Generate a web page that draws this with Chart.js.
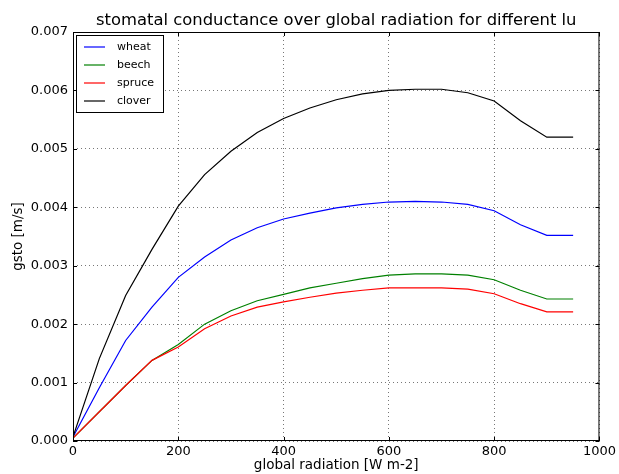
<!DOCTYPE html>
<html>
<head>
<meta charset="utf-8">
<script src="https://cdn.jsdelivr.net/npm/chart.js@4"></script>
<style>
  html, body { margin: 0; padding: 0; background: #fff; }
  #wrap { width: 619px; height: 474px; }
</style>
</head>
<body>
<div id="wrap"><canvas id="gsto-chart" width="619" height="474"></canvas></div>
<script>
// radiation steps (x axis)
const radiation = [0, 50, 100, 150, 200, 250, 300, 350, 400, 450, 500, 550, 600, 650, 700, 750, 800, 850, 900, 950]

// stomatal conductance per land use [m/s]
const wheat  = [0.00007, 0.00091, 0.00172, 0.00229, 0.00280, 0.00315, 0.00344, 0.00365, 0.00380, 0.00390, 0.00399, 0.00405, 0.00409, 0.00410, 0.00409, 0.00405, 0.00394, 0.00370, 0.00352, 0.00352]
const beech  = [0.00005, 0.00050, 0.00095, 0.00138, 0.00165, 0.00200, 0.00223, 0.00240, 0.00251, 0.00262, 0.00270, 0.00278, 0.00284, 0.00286, 0.00286, 0.00284, 0.00276, 0.00258, 0.00243, 0.00243]
const spruce = [0.00005, 0.00050, 0.00095, 0.00138, 0.00161, 0.00192, 0.00214, 0.00229, 0.00238, 0.00246, 0.00253, 0.00258, 0.00262, 0.00262, 0.00262, 0.00260, 0.00252, 0.00235, 0.00221, 0.00221]
const clover = [0.00007, 0.00141, 0.00249, 0.00328, 0.00402, 0.00456, 0.00496, 0.00528, 0.00552, 0.00570, 0.00584, 0.00594, 0.00600, 0.00602, 0.00602, 0.00596, 0.00582, 0.00548, 0.00520, 0.00520]

const lu_names  = ["wheat", "beech", "spruce", "clover"]
const lu_colors = ["#0000ff", "#008000", "#ff0000", "#000000"]
const lu_values = [wheat, beech, spruce, clover]

const x_ticks = [0, 200, 400, 600, 800, 1000]
const y_ticks = [0, 0.001, 0.002, 0.003, 0.004, 0.005, 0.006, 0.007]

const chart_title = "stomatal conductance over global radiation for different lu"
const FONT = "DejaVu Sans"

let datasets = []
for (let i = 0; i < lu_names.length; i++) {
  let pts = []
  for (let j = 0; j < radiation.length; j++) {
    pts.push({ x: radiation[j], y: lu_values[i][j] })
  }
  datasets.push({
    label: lu_names[i],
    data: pts,
    borderColor: lu_colors[i],
    borderWidth: 1.2,
    pointRadius: 0,
    fill: false,
    tension: 0,
    order: lu_names.length - i   // later series on top, like matplotlib
  })
}

// frame round the plot, inward ticks, title over the axes and legend box inside (matplotlib look)
const mplStyle = {
  id: "mplStyle",
  afterDraw(chart) {
    const ctx = chart.ctx
    const a = chart.chartArea
    const xs = chart.scales.x, ys = chart.scales.y
    ctx.save()
    ctx.strokeStyle = "#000"
    ctx.lineWidth = 1
    ctx.strokeRect(a.left + 0.5, a.top + 0.5, a.right - a.left - 1, a.bottom - a.top - 1)
    ctx.beginPath()
    x_ticks.forEach(v => {
      const px = Math.round(xs.getPixelForValue(v)) + 0.5
      ctx.moveTo(px, a.bottom); ctx.lineTo(px, a.bottom - 4)
      ctx.moveTo(px, a.top); ctx.lineTo(px, a.top + 4)
    })
    y_ticks.forEach(v => {
      const py = Math.round(ys.getPixelForValue(v)) + 0.5
      ctx.moveTo(a.left, py); ctx.lineTo(a.left + 4, py)
      ctx.moveTo(a.right, py); ctx.lineTo(a.right - 4, py)
    })
    ctx.stroke()

    // title
    ctx.fillStyle = "#000"
    ctx.font = "16.4px '" + FONT + "'"
    ctx.textAlign = "center"
    ctx.textBaseline = "alphabetic"
    ctx.fillText(chart_title, (a.left + a.right) / 2, a.top - 7)

    // legend
    const bx = a.left + 3, by = a.top + 3, bw = 87, bh = 77
    ctx.fillStyle = "#fff"
    ctx.fillRect(bx, by, bw, bh)
    ctx.strokeStyle = "#000"
    ctx.strokeRect(bx + 0.5, by + 0.5, bw, bh)
    ctx.font = "11px '" + FONT + "'"
    ctx.textAlign = "left"
    ctx.textBaseline = "middle"
    chart.data.datasets.forEach((ds, i) => {
      const yy = by + 12 + i * 18
      ctx.strokeStyle = ds.borderColor
      ctx.lineWidth = 1.2
      ctx.beginPath()
      ctx.moveTo(bx + 8, yy); ctx.lineTo(bx + 29, yy)
      ctx.stroke()
      ctx.fillStyle = "#000"
      ctx.fillText(ds.label, bx + 41, yy)
    })
    ctx.restore()
  }
}

new Chart(document.getElementById("gsto-chart"), {
  type: "line",
  data: { datasets: datasets },
  options: {
    responsive: false,
    animation: false,
    layout: { padding: { left: 0, right: 18, top: 32, bottom: 0 } },
    plugins: {
      legend: { display: false },
      tooltip: { enabled: false },
      title: { display: false }
    },
    scales: {
      x: {
        type: "linear",
        min: 0, max: 1000,
        afterBuildTicks: s => { s.ticks = x_ticks.map(v => ({ value: v })) },
        ticks: { color: "#000", font: { family: FONT, size: 13 }, padding: 3, maxRotation: 0, callback: v => String(v) },
        grid: { color: "#777", lineWidth: 1, drawTicks: false },
        border: { display: false, dash: [1, 3] },
        title: { display: true, text: "global radiation [W m-2]", color: "#000", font: { family: FONT, size: 13.5 }, padding: { top: 0, bottom: 0 } },
        afterFit: s => { s.height = 33 }
      },
      y: {
        min: 0, max: 0.007,
        afterBuildTicks: s => { s.ticks = y_ticks.map(v => ({ value: v })) },
        ticks: { color: "#000", font: { family: FONT, size: 13 }, padding: 5, callback: v => v.toFixed(3) },
        grid: { color: "#777", lineWidth: 1, drawTicks: false },
        border: { display: false, dash: [1, 3] },
        title: { display: true, text: "gsto [m/s]", color: "#000", font: { family: FONT, size: 13.5 }, padding: { top: 10, bottom: 2 } },
        afterFit: s => { s.width = 73 }
      }
    }
  },
  plugins: [mplStyle]
})
</script>
</body>
</html>
